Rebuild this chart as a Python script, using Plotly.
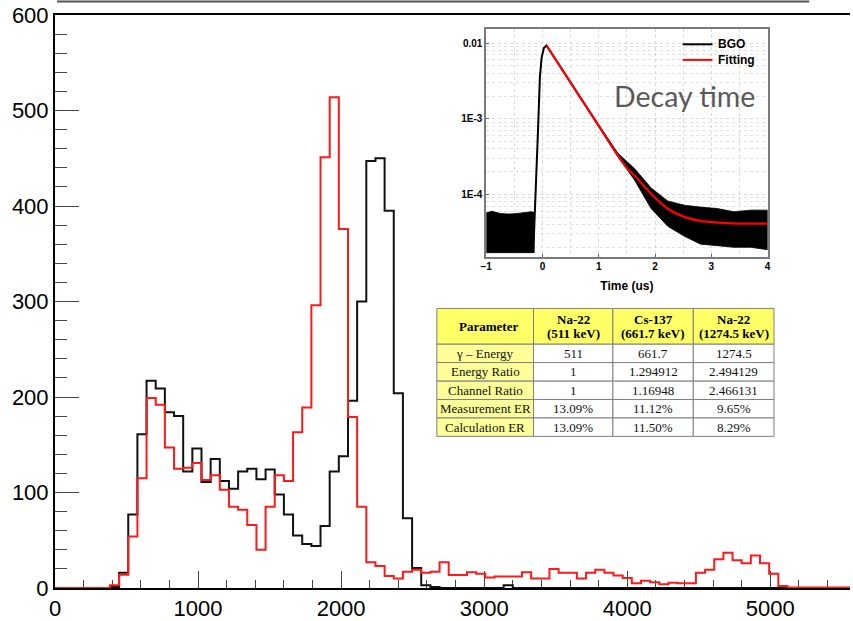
import numpy as np
import plotly.graph_objects as go

# ---------------- main histogram data (bin width 64 channels) ----------------
BIN_WIDTH = 64
black_counts = [0, 0, 0, 0, 0, 0, 1, 16, 77, 161, 217, 209, 184, 180, 122, 146,
                111, 135, 112, 104, 122, 125, 114, 124, 98, 77, 55, 46, 44, 65,
                122, 138, 196, 300, 447, 450, 395, 204, 73, 21, 3, 1, 0, 0, 0, 0,
                0, 0, 0, 3, 0, 0, 0, 0, 0, 0, 0, 0, 0, 0, 0, 0, 0, 0, 0, 0, 0, 0,
                0, 0, 0, 0, 0, 0, 0, 0, 0, 0, 0, 0, 0, 0, 0, 0, 0, 0, 0]
red_counts = [0, 0, 0, 0, 0, 0, 3, 14, 54, 115, 199, 192, 147, 125, 126, 131,
              113, 118, 103, 85, 82, 66, 40, 85, 118, 112, 163, 189, 296, 451,
              514, 376, 179, 85, 27, 23, 12.5, 10, 17, 19, 16, 17, 27, 13.5,
              13.5, 16.5, 15, 11, 12, 12, 12, 16.5, 10, 10, 20, 16, 16, 10, 16,
              19, 16, 13, 10.5, 5, 7.5, 6, 4, 5.5, 5, 5, 16, 19, 30, 37, 29, 26,
              34, 26, 15, 2, 0.5, 0.5, 0.5, 0.5, 0.5, 0.5, 0.5]
x_tick_vals = [0, 1000, 2000, 3000, 4000, 5000]
y_tick_vals = [0, 100, 200, 300, 400, 500, 600]

# ---------------- inset (decay time) data ----------------
bgo_t = [-0.163, -0.13, -0.122, -0.075, -0.046, -0.016, 0.025, 0.072, 1.0, 1.34]
bgo_v = [1.7e-5, 6.5e-5, 9.2e-5, 8.5e-4, 3.5e-3, 6.35e-3, 8.6e-3, 9.3e-3, 8.1e-4, 3.3e-4]

noise_left_t = [-1.0, -0.9, -0.75, -0.6, -0.45, -0.3, -0.2, -0.15, -0.15, -1.0]
noise_left_v = [5.7e-5, 6.0e-5, 5.6e-5, 5.5e-5, 5.6e-5, 5.7e-5, 5.9e-5, 5.8e-5, 1.7e-5, 1.7e-5]

band_up_t = [1.0, 1.34, 1.635, 1.93, 2.225, 2.52, 2.81, 3.11, 3.4, 3.7, 4.0]
band_up_v = [8.3e-4, 3.5e-4, 2.2e-4, 1.22e-4, 8.2e-5, 7.2e-5, 6.8e-5, 6.5e-5, 5.9e-5, 6.2e-5, 6.2e-5]
band_lo_t = [1.0, 1.34, 1.635, 1.93, 2.225, 2.52, 2.81, 3.11, 3.4, 3.7, 4.0]
band_lo_v = [7.9e-4, 3.15e-4, 1.55e-4, 6.5e-5, 3.8e-5, 2.8e-5, 2.2e-5, 2.1e-5, 2.0e-5, 2.0e-5, 1.86e-5]

fit_t = [0.072, 0.5, 1.0, 1.34, 1.517, 1.635, 1.93, 2.225, 2.52, 2.81, 3.11, 3.5, 4.0]
fit_v = [9.3e-3, 3.0e-3, 8.05e-4, 3.25e-4, 2.15e-4, 1.78e-4, 1.02e-4, 6.46e-5, 5.05e-5,
         4.47e-5, 4.25e-5, 4.12e-5, 4.1e-5]

inset_y_ticks = [1e-2, 1e-3, 1e-4]
inset_y_text = ["0.01", "1E-3", "1E-4"]
inset_x_ticks = [-1, 0, 1, 2, 3, 4]
legend_names = ["BGO", "Fitting"]
legend_colors = ["black", "#ff0000"]

# ---------------- table data ----------------
header_line1 = ["Parameter", "Na-22", "Cs-137", "Na-22"]
header_line2 = ["", "(511 keV)", "(661.7 keV)", "(1274.5 keV)"]
col_param = ["γ – Energy", "Energy Ratio", "Channel Ratio", "Measurement ER", "Calculation ER"]
col_na511 = ["511", "1", "1", "13.09%", "13.09%"]
col_cs137 = ["661.7", "1.294912", "1.16948", "11.12%", "11.50%"]
col_na1274 = ["1274.5", "2.494129", "2.466131", "9.65%", "8.29%"]

# ---------------- figure ----------------
W, H = 853, 621
ML, MR, MT, MB = 55, 0, 15, 29
PW, PH = W - ML - MR, H - MT - MB


def px_x(px):
    return (px - ML) / PW


def px_y(py):
    return (H - MB - py) / PH


fig = go.Figure()

edges = np.arange(len(black_counts) + 1) * BIN_WIDTH
fig.add_trace(go.Scatter(x=edges, y=list(black_counts) + [black_counts[-1]], mode="lines",
                         line=dict(shape="hv", color="#111111", width=2), showlegend=False,
                         hoverinfo="skip"))
fig.add_trace(go.Scatter(x=edges, y=list(red_counts) + [red_counts[-1]], mode="lines",
                         line=dict(shape="hv", color="#ff1a1a", width=2), showlegend=False,
                         hoverinfo="skip"))

# inset noise bands
band_t = noise_left_t + [None] + band_up_t + band_lo_t[::-1]
band_v = noise_left_v + [None] + band_up_v + band_lo_v[::-1]
fig.add_trace(go.Scatter(x=band_t, y=band_v, xaxis="x2", yaxis="y2", mode="lines",
                         fill="toself", fillcolor="black", line=dict(color="black", width=0.8),
                         showlegend=False, hoverinfo="skip"))
fig.add_trace(go.Scatter(x=bgo_t, y=bgo_v, xaxis="x2", yaxis="y2", mode="lines",
                         line=dict(color=legend_colors[0], width=2), name=legend_names[0],
                         showlegend=False))
fig.add_trace(go.Scatter(x=fit_t, y=fit_v, xaxis="x2", yaxis="y2", mode="lines",
                         line=dict(color=legend_colors[1], width=2.2, shape="spline", smoothing=0.6),
                         name=legend_names[1], showlegend=False))

shapes = []
annotations = []

# top decoration line
shapes.append(dict(type="line", xref="paper", yref="paper", x0=px_x(57), x1=px_x(812),
                   y0=px_y(1.5), y1=px_y(1.5), line=dict(color="#555555", width=2)))

# manual legend for inset
for i, (nm, col) in enumerate(zip(legend_names, legend_colors)):
    yy = 44.5 + i * 15.7
    shapes.append(dict(type="line", xref="paper", yref="paper", x0=px_x(685), x1=px_x(715),
                       y0=px_y(yy), y1=px_y(yy), line=dict(color=col, width=2)))
    annotations.append(dict(text="<b>%s</b>" % nm, xref="paper", yref="paper",
                            x=px_x(718), y=px_y(yy), xanchor="left", yanchor="middle",
                            showarrow=False,
                            font=dict(family="Liberation Sans, Arial, sans-serif", size=12,
                                      color="black")))

annotations.append(dict(text="Decay time", xref="paper", yref="paper",
                        x=px_x(686.5), y=px_y(97), xanchor="center", yanchor="middle",
                        showarrow=False,
                        font=dict(family="Lato, sans-serif", size=28.5, color="#595959")))

# table drawn as cells
col_x = [438.3, 535.3, 615.0, 695.7, 776.7]
row_y = [310.5, 346.5, 365.0, 383.7, 402.2, 420.8, 439.3]
body_cols = [col_param, col_na511, col_cs137, col_na1274]
serif = "Liberation Serif, Times New Roman, serif"
for c in range(4):
    x0, x1 = col_x[c], col_x[c + 1]
    xc = (x0 + x1) / 2
    shapes.append(dict(type="rect", xref="paper", yref="paper", x0=px_x(x0), x1=px_x(x1),
                       y0=px_y(row_y[0]), y1=px_y(row_y[1]), fillcolor="#ffff66",
                       line=dict(color="#808080", width=1), layer="above"))
    if header_line2[c]:
        annotations.append(dict(text="<b>%s</b>" % header_line1[c], xref="paper", yref="paper",
                                x=px_x(xc), y=px_y(321.5), xanchor="center", yanchor="middle",
                                showarrow=False, font=dict(family=serif, size=13, color="black")))
        annotations.append(dict(text="<b>%s</b>" % header_line2[c], xref="paper", yref="paper",
                                x=px_x(xc), y=px_y(336), xanchor="center", yanchor="middle",
                                showarrow=False, font=dict(family=serif, size=13, color="black")))
    else:
        annotations.append(dict(text="<b>%s</b>" % header_line1[c], xref="paper", yref="paper",
                                x=px_x(xc + 3), y=px_y(328.5), xanchor="center", yanchor="middle",
                                showarrow=False, font=dict(family=serif, size=13, color="black")))
    for r in range(5):
        y0, y1 = row_y[r + 1], row_y[r + 2]
        shapes.append(dict(type="rect", xref="paper", yref="paper", x0=px_x(x0), x1=px_x(x1),
                           y0=px_y(y0), y1=px_y(y1),
                           fillcolor="#ffff99" if c == 0 else "white",
                           line=dict(color="#808080", width=1), layer="above"))
        annotations.append(dict(text=body_cols[c][r], xref="paper", yref="paper",
                                x=px_x(xc), y=px_y((y0 + y1) / 2), xanchor="center",
                                yanchor="middle", showarrow=False,
                                font=dict(family=serif, size=13, color="#111111")))

axis_font = dict(family="Liberation Sans, Arial, sans-serif", size=22, color="black")
inset_font = dict(family="Liberation Sans, Arial, sans-serif", size=10, color="black", weight="bold")

minor_y_grid = [k * 10.0 ** d for d in range(-5, -1) for k in range(2, 10)]

fig.update_layout(
    width=W, height=H,
    margin=dict(l=ML, r=MR, t=MT, b=MB, pad=0),
    paper_bgcolor="white", plot_bgcolor="white",
    showlegend=False,
    xaxis=dict(range=[0, PW / 143.6 * 1000], domain=[0, 1], tickvals=x_tick_vals,
               ticks="inside", ticklen=17, tickwidth=1, tickcolor="#444",
               minor=dict(dtick=200, tick0=0, ticks="inside", ticklen=8, tickwidth=1, tickcolor="#444"),
               showline=True, linecolor="black", linewidth=2, mirror=True,
               showgrid=False, zeroline=False, tickfont=axis_font, layer="below traces"),
    yaxis=dict(range=[0, 600], domain=[0, 1], tickvals=y_tick_vals,
               ticks="inside", ticklen=24, tickwidth=1, tickcolor="#444",
               minor=dict(dtick=20, tick0=0, ticks="inside", ticklen=12, tickwidth=1, tickcolor="#444"),
               showline=True, linecolor="black", linewidth=2, mirror=False,
               showgrid=False, zeroline=False, tickfont=axis_font, layer="below traces"),
    xaxis2=dict(domain=[px_x(487.8), px_x(770.3)], anchor="y2", range=[-1, 4],
                tickvals=inset_x_ticks, ticks="inside", ticklen=3, tickcolor="#666",
                showgrid=True, gridcolor="#d9d9d9", griddash="dot", gridwidth=1,
                minor=dict(dtick=0.5, tick0=0, showgrid=True, gridcolor="#d9d9d9", griddash="dot"),
                showline=True, linecolor="#7a7a7a", linewidth=1.5, mirror=True,
                zeroline=False, tickfont=inset_font,
                title=dict(text="Time (us)", standoff=10,
                           font=dict(family="Liberation Sans, Arial, sans-serif", size=12,
                                     color="black", weight="bold"))),
    yaxis2=dict(domain=[px_y(258.3), px_y(29.3)], anchor="x2", type="log",
                range=[-4.822, -1.816], tickvals=inset_y_ticks, ticktext=inset_y_text,
                ticks="inside", ticklen=3, tickcolor="#666",
                showgrid=True, gridcolor="#d9d9d9", griddash="dot", gridwidth=1,
                minor=dict(tickmode="array", tickvals=minor_y_grid, showgrid=True,
                           gridcolor="#e3e3e3", griddash="dot"),
                showline=True, linecolor="#7a7a7a", linewidth=1.5, mirror=True,
                zeroline=False, tickfont=inset_font),
    shapes=shapes,
    annotations=annotations,
)

fig.write_html("out.html")
